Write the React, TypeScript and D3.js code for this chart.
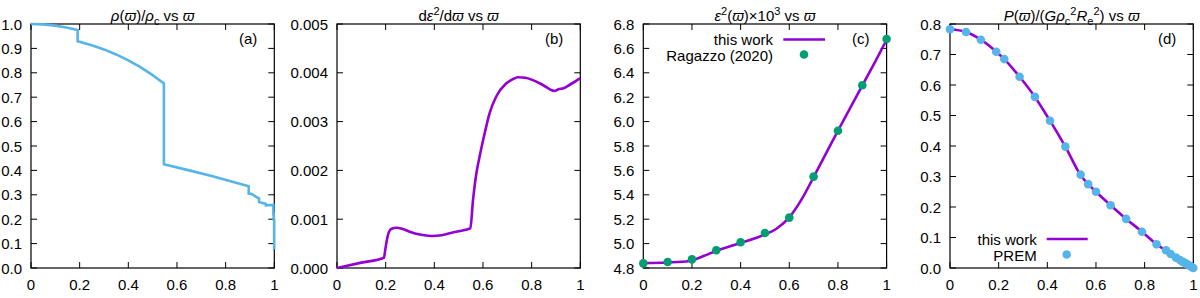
import React from "react";
import * as d3 from "d3";

// ---------- data ----------
const xTicks = [0, 0.2, 0.4, 0.6, 0.8, 1];

// (a) density ratio rho/rho_c
const densityCurve: [number, number][] = [
  [0, 1.0], [0.05, 0.9983], [0.1, 0.9932], [0.15, 0.9848], [0.1917, 0.9752],
  [0.1917, 0.9296], [0.25, 0.9131], [0.3, 0.8959], [0.35, 0.8753], [0.4, 0.8511],
  [0.45, 0.823], [0.5, 0.7906], [0.5462, 0.7567],
  [0.5462, 0.4253], [0.65, 0.4001], [0.75, 0.3751], [0.8948, 0.3347],
  [0.8948, 0.305], [0.9058, 0.3038], [0.9372, 0.2845], [0.9372, 0.2707],
  [0.9655, 0.2625], [0.9655, 0.2567], [0.9962, 0.2583], [0.9962, 0.2216],
  [0.9976, 0.2216], [0.9976, 0.1987], [0.9995, 0.1987], [0.9995, 0.0779], [1, 0.0779],
];
const densityTicks = [0, 0.1, 0.2, 0.3, 0.4, 0.5, 0.6, 0.7, 0.8, 0.9, 1.0];

// (b) d eps^2 / d varpi
const slopeCurve: [number, number][] = [
  [0, 0], [0.1, 0.00011], [0.193, 0.000211], [0.198, 0.00036], [0.204, 0.00055], [0.212, 0.00072],
  [0.224, 0.000805], [0.245, 0.000826], [0.27, 0.0008], [0.299, 0.000744], [0.34, 0.000685],
  [0.388, 0.000656], [0.43, 0.00067], [0.463, 0.000711], [0.5, 0.000755],
  [0.548, 0.000813], [0.559, 0.00139], [0.572, 0.00191], [0.586, 0.00228],
  [0.607, 0.00276], [0.627, 0.00317], [0.654, 0.00351], [0.695, 0.00378],
  [0.723, 0.00387], [0.743, 0.00391], [0.775, 0.0039], [0.805, 0.00385],
  [0.846, 0.00375], [0.893, 0.00363], [0.914, 0.00367], [0.928, 0.00368],
  [0.955, 0.00375], [1, 0.00389],
];
const slopeTicks = [0, 0.001, 0.002, 0.003, 0.004, 0.005];

// (c) eps^2 x 10^3
const ellipCurve: [number, number][] = [
  [0, 4.84], [0.1, 4.845], [0.19, 4.858], [0.25, 4.9], [0.3, 4.94], [0.4, 5.005],
  [0.5, 5.075], [0.546, 5.12], [0.6, 5.215], [0.65, 5.36], [0.7, 5.545], [0.75, 5.735],
  [0.8, 5.925], [0.85, 6.11], [0.9, 6.295], [0.95, 6.48], [1.0, 6.67],
];
const ragazzoPoints: [number, number][] = [
  [0, 4.838], [0.1, 4.849], [0.2, 4.871], [0.3, 4.945], [0.4, 5.011], [0.5, 5.087],
  [0.6, 5.213], [0.7, 5.549], [0.8, 5.925], [0.9, 6.298], [1.0, 6.677],
];
const ellipTicks = [4.8, 5.0, 5.2, 5.4, 5.6, 5.8, 6.0, 6.2, 6.4, 6.6, 6.8];

// (d) pressure
const pressureCurve: [number, number][] = [
  [0, 0.783], [0.066, 0.774], [0.127, 0.7485], [0.19, 0.709], [0.223, 0.685],
  [0.286, 0.627], [0.349, 0.561], [0.411, 0.483], [0.474, 0.398], [0.54, 0.301],
  [0.568, 0.275], [0.6, 0.25], [0.66, 0.2055], [0.724, 0.161], [0.789, 0.119],
  [0.849, 0.0776], [0.895, 0.053], [0.937, 0.03], [0.966, 0.0155], [1, 0],
];
const premPoints: [number, number][] = [
  [0, 0.783], [0.066, 0.774], [0.127, 0.7485], [0.19, 0.709], [0.223, 0.685],
  [0.286, 0.627], [0.349, 0.561], [0.411, 0.483], [0.474, 0.398], [0.537, 0.306],
  [0.568, 0.275], [0.6, 0.25], [0.66, 0.2055], [0.724, 0.161], [0.789, 0.119],
  [0.849, 0.0776], [0.888, 0.058], [0.907, 0.046], [0.929, 0.034], [0.945, 0.026],
  [0.955, 0.021], [0.963, 0.0175], [0.972, 0.0135], [0.981, 0.01], [0.99, 0.005],
  [0.995, 0.0025], [1, 0],
];
const pressureTicks = [0, 0.1, 0.2, 0.3, 0.4, 0.5, 0.6, 0.7, 0.8];

// ---------- style ----------
const FONT = "'Liberation Sans', Arial, Helvetica, sans-serif";
const BLUE = "#56b4e9";
const PURPLE = "#9400d3";
const GREEN = "#009e73";
const TOP = 24;
const BOTTOM = 268;
const WIDTH = 243.3;
const LEFTS = [31, 337, 643.3, 950];
const DOT_R = 4.3;

type PanelProps = {
  left: number;
  yDomain: [number, number];
  yTicks: number[];
  yFmt: (v: number) => string;
  title: React.ReactNode;
  label: string;
  children: (x: d3.ScaleLinear<number, number>, y: d3.ScaleLinear<number, number>) => React.ReactNode;
};

function Panel({ left, yDomain, yTicks, yFmt, title, label, children }: PanelProps) {
  const x = d3.scaleLinear().domain([0, 1]).range([left, left + WIDTH]);
  const y = d3.scaleLinear().domain(yDomain).range([BOTTOM, TOP]);
  const right = left + WIDTH;
  const tl = 6;
  return (
    <g>
      {xTicks.map((t) => (
        <g key={"x" + t}>
          <line x1={x(t)} x2={x(t)} y1={BOTTOM} y2={BOTTOM - tl} stroke="#000" />
          <line x1={x(t)} x2={x(t)} y1={TOP} y2={TOP + tl} stroke="#000" />
          <text x={x(t)} y={290} textAnchor="middle" fontSize={15} fontFamily={FONT}>
            {String(t)}
          </text>
        </g>
      ))}
      {yTicks.map((t) => (
        <g key={"y" + t}>
          <line x1={left} x2={left + tl} y1={y(t)} y2={y(t)} stroke="#000" />
          <line x1={right} x2={right - tl} y1={y(t)} y2={y(t)} stroke="#000" />
          <text x={left - 9} y={y(t) + 5.5} textAnchor="end" fontSize={15} fontFamily={FONT}>
            {yFmt(t)}
          </text>
        </g>
      ))}
      <rect x={left} y={TOP} width={WIDTH} height={BOTTOM - TOP} fill="none" stroke="#000" strokeWidth={1.2} />
      {children(x, y)}
      <text x={left + WIDTH / 2} y={20.5} textAnchor="middle" fontSize={15} fontFamily={FONT}>
        {title}
      </text>
      <text x={right - 17} y={44} textAnchor="end" fontSize={15} fontFamily={FONT}>
        {label}
      </text>
    </g>
  );
}

const It = ({ children }: { children: React.ReactNode }) => <tspan fontStyle="italic">{children}</tspan>;

export default function App() {
  const mkLine = (x: any, y: any, curve: any) =>
    d3.line<[number, number]>().x((d) => x(d[0])).y((d) => y(d[1])).curve(curve);
  return (
    <svg width={1200} height={298} style={{ position: "absolute", left: 0, top: 0, background: "#fff" }}>
      <rect x={0} y={0} width={1200} height={298} fill="#fff" />
      <Panel
        left={LEFTS[0]}
        yDomain={[0, 1]}
        yTicks={densityTicks}
        yFmt={d3.format(".1f")}
        label="(a)"
        title={
          <>
            <It>ρ</It>(<It>ϖ</It>)/<It>ρ</It>
            <tspan fontSize={11} dy={4}>c</tspan>
            <tspan dy={-4}> vs </tspan>
            <It>ϖ</It>
          </>
        }
      >
        {(x, y) => (
          <path d={mkLine(x, y, d3.curveLinear)(densityCurve) || ""} fill="none" stroke={BLUE} strokeWidth={2.6} />
        )}
      </Panel>
      <Panel
        left={LEFTS[1]}
        yDomain={[0, 0.005]}
        yTicks={slopeTicks}
        yFmt={d3.format(".3f")}
        label="(b)"
        title={
          <>
            d<It>ε</It>
            <tspan fontSize={11} dy={-6}>2</tspan>
            <tspan dy={6}>/d</tspan>
            <It>ϖ</It> vs <It>ϖ</It>
          </>
        }
      >
        {(x, y) => (
          <path d={mkLine(x, y, d3.curveMonotoneX)(slopeCurve) || ""} fill="none" stroke={PURPLE} strokeWidth={2.6} />
        )}
      </Panel>
      <Panel
        left={LEFTS[2]}
        yDomain={[4.8, 6.8]}
        yTicks={ellipTicks}
        yFmt={d3.format(".1f")}
        label="(c)"
        title={
          <>
            <It>ε</It>
            <tspan fontSize={11} dy={-6}>2</tspan>
            <tspan dy={6}>(</tspan>
            <It>ϖ</It>)×10
            <tspan fontSize={11} dy={-6}>3</tspan>
            <tspan dy={6}> vs </tspan>
            <It>ϖ</It>
          </>
        }
      >
        {(x, y) => {
          const l = LEFTS[2];
          return (
            <g>
              <path d={mkLine(x, y, d3.curveMonotoneX)(ellipCurve) || ""} fill="none" stroke={PURPLE} strokeWidth={2.6} />
              {ragazzoPoints.map((p, i) => (
                <circle key={i} cx={x(p[0])} cy={y(p[1])} r={DOT_R} fill={GREEN} />
              ))}
              <text x={l + 129.7} y={45} textAnchor="end" fontSize={15} fontFamily={FONT}>this work</text>
              <line x1={l + 140} x2={l + 181.7} y1={39.5} y2={39.5} stroke={PURPLE} strokeWidth={2.6} />
              <text x={l + 129.7} y={60.5} textAnchor="end" fontSize={15} fontFamily={FONT}>Ragazzo (2020)</text>
              <circle cx={l + 160.7} cy={54.5} r={DOT_R} fill={GREEN} />
            </g>
          );
        }}
      </Panel>
      <Panel
        left={LEFTS[3]}
        yDomain={[0, 0.8]}
        yTicks={pressureTicks}
        yFmt={d3.format(".1f")}
        label="(d)"
        title={
          <>
            <It>P</It>(<It>ϖ</It>)/(<It>Gρ</It>
            <tspan fontSize={11} dy={4}>c</tspan>
            <tspan fontSize={11} dy={-10}>2</tspan>
            <tspan dy={6} fontStyle="italic">R</tspan>
            <tspan fontSize={11} dy={4}>e</tspan>
            <tspan fontSize={11} dy={-10}>2</tspan>
            <tspan dy={6}>) vs </tspan>
            <It>ϖ</It>
          </>
        }
      >
        {(x, y) => {
          const l = LEFTS[3];
          return (
            <g>
              <path d={mkLine(x, y, d3.curveMonotoneX)(pressureCurve) || ""} fill="none" stroke={PURPLE} strokeWidth={2.6} />
              {premPoints.map((p, i) => (
                <circle key={i} cx={x(p[0])} cy={y(p[1])} r={DOT_R} fill={BLUE} />
              ))}
              <text x={l + 86.7} y={245} textAnchor="end" fontSize={15} fontFamily={FONT}>this work</text>
              <line x1={l + 96.7} x2={l + 137.7} y1={239} y2={239} stroke={PURPLE} strokeWidth={2.6} />
              <text x={l + 86.7} y={260.5} textAnchor="end" fontSize={15} fontFamily={FONT}>PREM</text>
              <circle cx={l + 116.7} cy={254.5} r={DOT_R} fill={BLUE} />
            </g>
          );
        }}
      </Panel>
    </svg>
  );
}
